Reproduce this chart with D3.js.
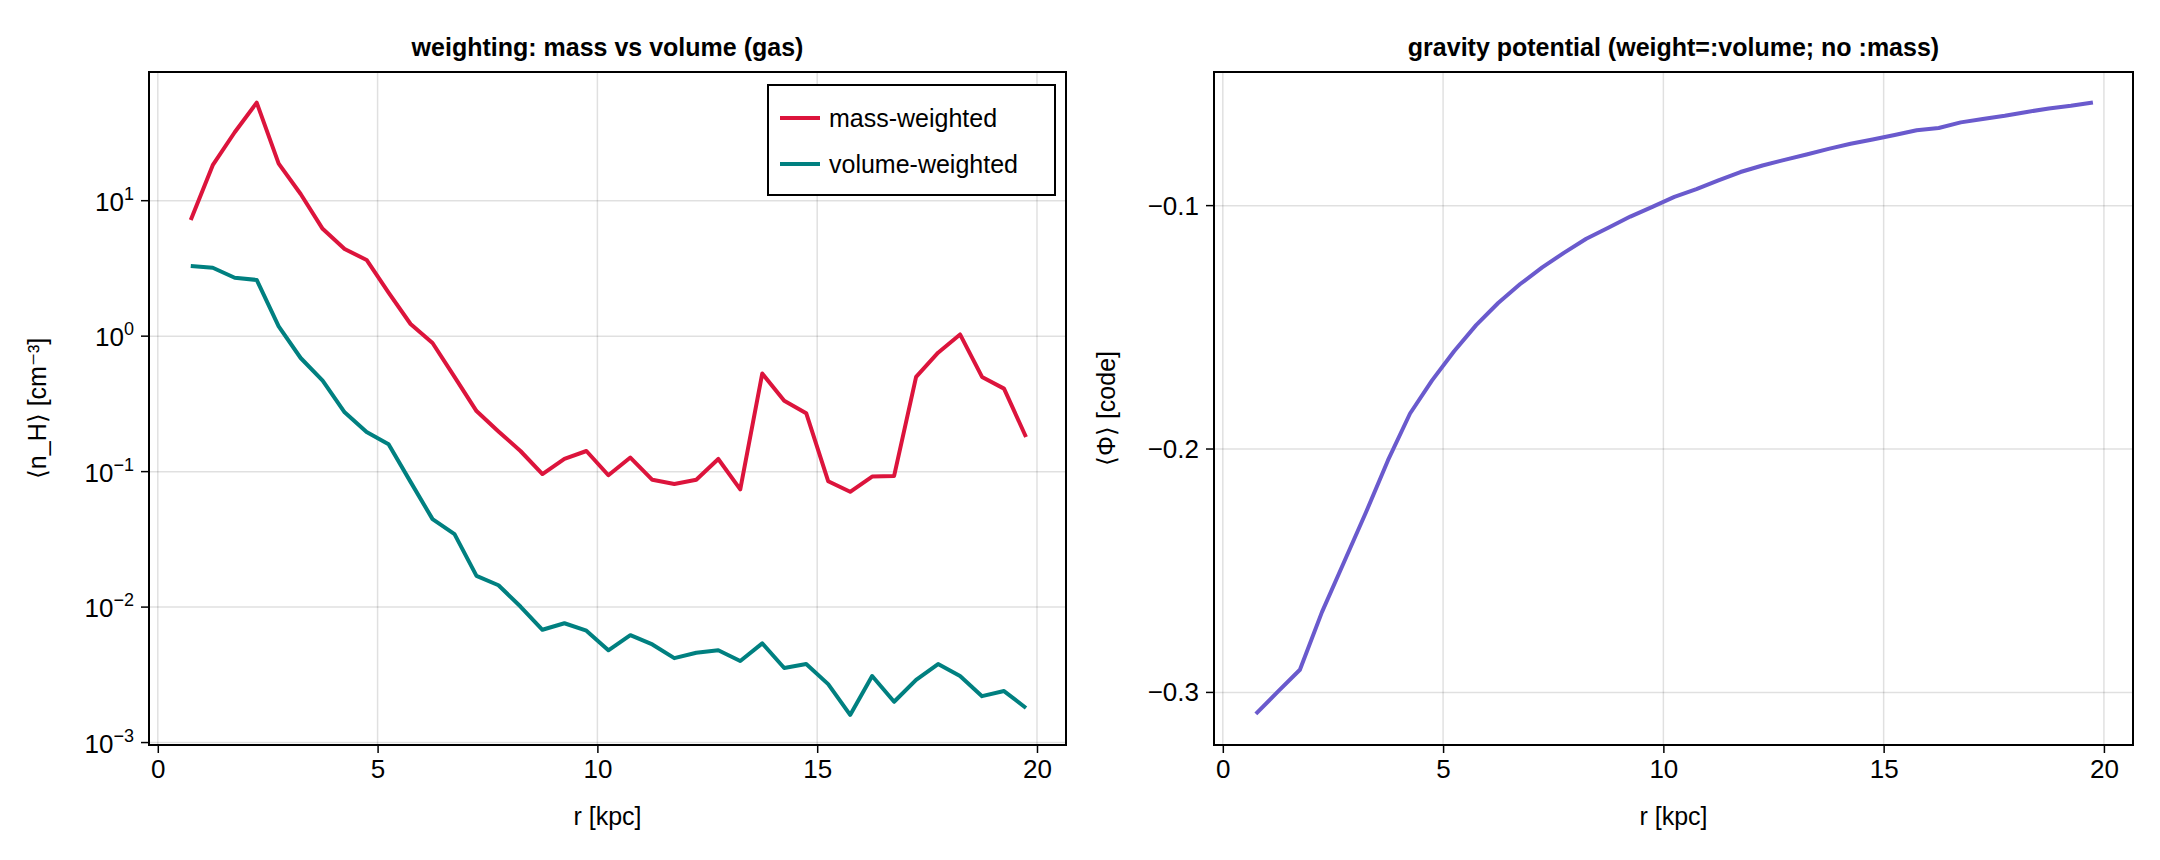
<!DOCTYPE html><html><head><meta charset="utf-8">
<script src="https://cdn.jsdelivr.net/npm/d3@7"></script>
<style>body{margin:0;background:#fff}text{font-family:"Liberation Sans",Arial,sans-serif}</style>
</head><body><svg id="c" width="2160" height="860"></svg>
<script>
const r = [0.75,1.25,1.75,2.25,2.75,3.25,3.75,4.25,4.75,5.25,5.75,6.25,6.75,7.25,7.75,8.25,8.75,9.25,9.75,10.25,10.75,11.25,11.75,12.25,12.75,13.25,13.75,14.25,14.75,15.25,15.75,16.25,16.75,17.25,17.75,18.25,18.75,19.25,19.75];
const massW = [7.2,18.3,32,53,18.8,11.2,6.2,4.4,3.65,2.1,1.23,0.89,0.50,0.28,0.198,0.142,0.096,0.124,0.142,0.094,0.127,0.087,0.081,0.087,0.124,0.074,0.53,0.334,0.27,0.085,0.071,0.092,0.093,0.50,0.755,1.03,0.50,0.41,0.18];
const volW = [3.3,3.2,2.7,2.6,1.18,0.69,0.47,0.274,0.196,0.159,0.084,0.0446,0.0346,0.017,0.0145,0.0101,0.0068,0.0076,0.0067,0.0048,0.0062,0.0053,0.0042,0.0046,0.0048,0.0040,0.0054,0.00355,0.0038,0.0027,0.0016,0.0031,0.0020,0.0029,0.0038,0.0031,0.0022,0.0024,0.0018];
const phi = [-0.3088,-0.2997,-0.2907,-0.267,-0.2465,-0.226,-0.2046,-0.1854,-0.1718,-0.1598,-0.1491,-0.140,-0.1322,-0.1254,-0.1193,-0.1136,-0.1091,-0.1045,-0.1005,-0.0964,-0.0932,-0.0896,-0.0862,-0.0835,-0.0812,-0.0790,-0.0767,-0.0746,-0.0728,-0.0710,-0.0690,-0.0681,-0.0658,-0.0644,-0.0631,-0.0615,-0.0601,-0.0590,-0.0576];
const xTicks = [0,5,10,15,20];
const logTicks = [-3,-2,-1,0,1];
const phiTicks = [-0.3,-0.2,-0.1];

const svg = d3.select("#c");
const T=72,B=745;
function panel(x0,x1,title,xlab,ylab,ylx){
  const g=svg.append("g");
  const x=d3.scaleLinear().domain([-0.2,20.66]).range([x0,x1]);
  g.append("text").attr("x",(x0+x1)/2).attr("y",56).attr("text-anchor","middle").attr("font-size",25).attr("font-weight","bold").text(title);
  g.append("text").attr("x",(x0+x1)/2).attr("y",825).attr("text-anchor","middle").attr("font-size",25).text(xlab);
  g.append("text").attr("transform",`translate(${ylx},${(T+B)/2}) rotate(-90)`).attr("text-anchor","middle").attr("font-size",25).text(ylab);
  xTicks.forEach(t=>{
    g.append("line").attr("x1",x(t)).attr("x2",x(t)).attr("y1",T).attr("y2",B).attr("stroke","#000").attr("stroke-opacity",0.12).attr("stroke-width",1.5);
  });
  const ax=g.append("g").attr("transform",`translate(0,${B})`).call(d3.axisBottom(x).tickValues(xTicks).tickSize(8).tickSizeOuter(0).tickPadding(7));
  ax.select(".domain").remove();
  ax.selectAll("line").attr("stroke-width",1.5);
  ax.selectAll("text").attr("font-size",26).attr("font-family","Liberation Sans, Arial, sans-serif");
  return {g,x};
}
function frame(g,x0,x1){g.append("rect").attr("x",x0).attr("y",T).attr("width",x1-x0).attr("height",B-T).attr("fill","none").attr("stroke","#000").attr("stroke-width",2);}

// Left
const L=panel(149,1066,"weighting: mass vs volume (gas)","r [kpc]","⟨n_H⟩ [cm⁻³]",46);
const yL=d3.scaleLog().domain([Math.pow(10,-3.018),Math.pow(10,1.95)]).range([B,T]);
logTicks.forEach(e=>{
  const yy=yL(Math.pow(10,e));
  L.g.append("line").attr("x1",149).attr("x2",1066).attr("y1",yy).attr("y2",yy).attr("stroke","#000").attr("stroke-opacity",0.12).attr("stroke-width",1.5);
  L.g.append("line").attr("x1",141).attr("x2",149).attr("y1",yy).attr("y2",yy).attr("stroke","#000").attr("stroke-width",1.5);
  const t=L.g.append("text").attr("x",134).attr("y",yy+10).attr("text-anchor","end").attr("font-size",26);
  t.append("tspan").text("10");
  t.append("tspan").attr("dy",-11).attr("font-size",18).text(e<0?"−"+(-e):String(e));
});
const lineL=d3.line().x((d,i)=>L.x(r[i])).y(d=>yL(d));
L.g.append("path").datum(massW).attr("d",lineL).attr("fill","none").attr("stroke","#DC143C").attr("stroke-width",4).attr("stroke-linejoin","round");
L.g.append("path").datum(volW).attr("d",lineL).attr("fill","none").attr("stroke","#008080").attr("stroke-width",4).attr("stroke-linejoin","round");
frame(L.g,149,1066);
const lg=L.g.append("g");
lg.append("rect").attr("x",768).attr("y",85).attr("width",287).attr("height",110).attr("fill","#fff").attr("stroke","#000").attr("stroke-width",2);
[["mass-weighted","#DC143C",118],["volume-weighted","#008080",164]].forEach(([n,c,yy])=>{
  lg.append("line").attr("x1",780).attr("x2",820).attr("y1",yy).attr("y2",yy).attr("stroke",c).attr("stroke-width",4);
  lg.append("text").attr("x",829).attr("y",yy+9).attr("font-size",25).text(n);
});

// Right
const R=panel(1214,2133,"gravity potential (weight=:volume; no :mass)","r [kpc]","⟨Φ⟩ [code]",1115);
const yR=d3.scaleLinear().domain([-0.3216,-0.0451]).range([B,T]);
phiTicks.forEach(v=>{
  const yy=yR(v);
  R.g.append("line").attr("x1",1214).attr("x2",2133).attr("y1",yy).attr("y2",yy).attr("stroke","#000").attr("stroke-opacity",0.12).attr("stroke-width",1.5);
  R.g.append("line").attr("x1",1206).attr("x2",1214).attr("y1",yy).attr("y2",yy).attr("stroke","#000").attr("stroke-width",1.5);
  R.g.append("text").attr("x",1199).attr("y",yy+9).attr("text-anchor","end").attr("font-size",26).text(("" + v).replace("-","−"));
});
R.g.append("path").datum(phi).attr("d",d3.line().x((d,i)=>R.x(r[i])).y(d=>yR(d))).attr("fill","none").attr("stroke","#6A5ACD").attr("stroke-width",4).attr("stroke-linejoin","round");
frame(R.g,1214,2133);
</script></body></html>
